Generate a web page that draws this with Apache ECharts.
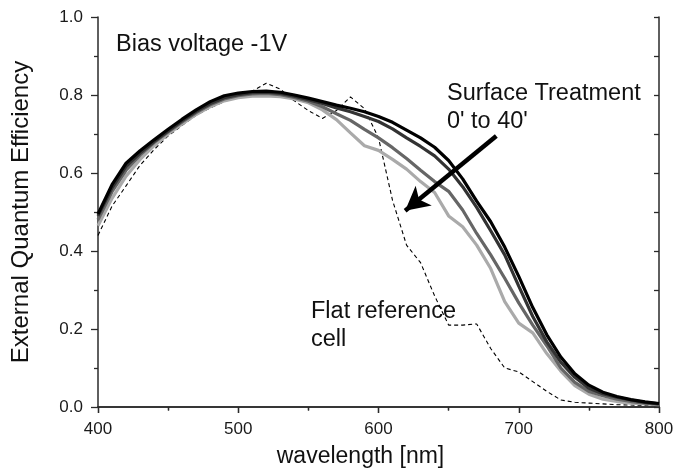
<!DOCTYPE html>
<html>
<head>
<meta charset="utf-8">
<script src="https://cdn.jsdelivr.net/npm/echarts@6/dist/echarts.min.js"></script>
<style>
html,body{margin:0;padding:0;background:#fff;}
#chart{width:683px;height:473px;}
</style>
</head>
<body>
<div id="chart"></div>
<script>
// wavelengths [nm]
var wavelengths = [400,410,420,430,440,450,460,470,480,490,500,510,520,530,540,550,560,570,580,590,600,610,620,630,640,650,660,670,680,690,700,710,720,730,740,750,760,770,780,790,800];
// surface treatment curves (EQE)
var eqe0 = [0.495,0.57,0.625,0.657,0.685,0.712,0.738,0.762,0.783,0.798,0.805,0.809,0.81,0.807,0.8,0.792,0.783,0.774,0.766,0.757,0.745,0.73,0.71,0.69,0.666,0.632,0.585,0.528,0.475,0.41,0.335,0.255,0.185,0.128,0.085,0.056,0.038,0.027,0.019,0.013,0.009];
var eqe1 = [0.49,0.562,0.617,0.651,0.681,0.708,0.734,0.758,0.778,0.793,0.801,0.806,0.807,0.804,0.797,0.788,0.778,0.767,0.757,0.745,0.732,0.713,0.69,0.668,0.644,0.61,0.565,0.512,0.452,0.39,0.31,0.232,0.167,0.115,0.076,0.048,0.034,0.025,0.018,0.012,0.008];
var eqe2 = [0.48,0.552,0.607,0.646,0.678,0.705,0.731,0.755,0.775,0.79,0.798,0.803,0.804,0.801,0.794,0.784,0.77,0.752,0.735,0.712,0.69,0.665,0.637,0.607,0.578,0.553,0.505,0.445,0.39,0.33,0.267,0.21,0.157,0.1,0.063,0.04,0.029,0.02,0.014,0.01,0.007];
var eqe3 = [0.465,0.535,0.592,0.635,0.67,0.70,0.726,0.75,0.77,0.785,0.793,0.797,0.798,0.796,0.79,0.78,0.762,0.737,0.703,0.67,0.658,0.635,0.61,0.578,0.55,0.49,0.462,0.415,0.355,0.27,0.215,0.19,0.137,0.092,0.055,0.033,0.02,0.014,0.01,0.008,0.006];
// flat reference cell
var eqeRef = [0.44,0.515,0.567,0.62,0.66,0.695,0.722,0.748,0.767,0.783,0.795,0.81,0.83,0.815,0.785,0.76,0.74,0.76,0.795,0.765,0.69,0.53,0.415,0.37,0.285,0.21,0.21,0.213,0.15,0.1,0.09,0.065,0.04,0.018,0.012,0.01,0.008,0.006,0.005,0.004,0.004];
// axis ticks
var xTicks = [400,500,600,700,800];
var yTicks = [0.0,0.2,0.4,0.6,0.8,1.0];

function pairs(vals){ return wavelengths.map(function(w,i){ return [w, vals[i]]; }); }

var chart = echarts.init(document.getElementById('chart'), null, {renderer:'canvas'});
var FONT = 'Liberation Sans, Arial, sans-serif';
var axisLine = {show:true, lineStyle:{color:'#2a2a2a', width:1.5}};

var curveStyles = [
  {name:"40'", data:eqe3, color:'#aaaaaa'},
  {name:"20'", data:eqe2, color:'#666666'},
  {name:"10'", data:eqe1, color:'#333333'},
  {name:"0'",  data:eqe0, color:'#000000'}
];

var series = curveStyles.map(function(c){
  return {type:'line', name:c.name, data:pairs(c.data), showSymbol:false, symbol:'none',
    lineStyle:{color:c.color, width:3.2}, itemStyle:{color:c.color}, silent:true, z:3};
});
series.unshift({type:'line', name:'Flat reference cell', data:pairs(eqeRef), showSymbol:false, symbol:'none',
  lineStyle:{color:'#000', width:1.1, type:[4,3]}, silent:true, z:2});
// arrow annotation
series.push({type:'line', data:[], silent:true,
  markLine:{silent:true, symbol:['none','arrow'], symbolSize:[19,24], animation:false,
    label:{show:false}, lineStyle:{color:'#000', width:4.5, type:'solid'},
    emphasis:{disabled:true},
    data:[[{coord:[684,0.695]},{coord:[619,0.503]}]]}});

var option = {
  animation:false,
  backgroundColor:'#fff',
  grid:{left:98, right:24, top:17, bottom:62, containLabel:false},
  xAxis:[{
    type:'value', min:400, max:800, interval:100, position:'bottom',
    axisLine:axisLine,
    axisTick:{show:true, inside:false, length:6, lineStyle:{color:'#2a2a2a', width:1.3}},
    minorTick:{show:true, splitNumber:2, length:3.5, lineStyle:{color:'#2a2a2a', width:1.3}},
    splitLine:{show:false},
    axisLabel:{fontSize:17, color:'#1a1a1a', fontFamily:FONT, margin:14,
      formatter:function(v){ return xTicks.indexOf(v)>=0 ? String(v) : ''; }},
    name:'wavelength [nm]', nameLocation:'middle', nameGap:38,
    nameTextStyle:{fontSize:23, color:'#111', fontFamily:FONT, padding:[0,36,0,0]}
  },{
    type:'value', min:400, max:800, interval:100, position:'top',
    axisLine:axisLine,
    axisTick:{show:true, inside:true, length:6, lineStyle:{color:'#2a2a2a', width:1.3}},
    minorTick:{show:true, splitNumber:2, length:3.5, lineStyle:{color:'#2a2a2a', width:1.3}},
    splitLine:{show:false}, axisLabel:{show:false}
  }],
  yAxis:[{
    type:'value', min:0, max:1, interval:0.2, position:'left',
    axisLine:axisLine,
    axisTick:{show:true, inside:false, length:7, lineStyle:{color:'#2a2a2a', width:1.3}},
    minorTick:{show:true, splitNumber:2, length:4, lineStyle:{color:'#2a2a2a', width:1.3}},
    splitLine:{show:false},
    axisLabel:{fontSize:17, color:'#1a1a1a', fontFamily:FONT, margin:15,
      formatter:function(v){ return v.toFixed(1); }},
    name:'External Quantum Efficiency', nameLocation:'middle', nameGap:65,
    nameTextStyle:{fontSize:24, color:'#111', fontFamily:FONT}
  },{
    type:'value', min:0, max:1, interval:0.1, position:'right',
    axisLine:axisLine,
    axisTick:{show:true, inside:true, length:5, lineStyle:{color:'#2a2a2a', width:1.3}},
    splitLine:{show:false}, axisLabel:{show:false}
  }],
  series:series,
  graphic:[
    {type:'text', left:116, top:33, silent:true,
      style:{text:'Bias voltage -1V', fontSize:23.5, fontFamily:FONT, fill:'#111'}},
    {type:'text', left:447, top:80, silent:true,
      style:{text:"Surface Treatment\n0' to 40'", fontSize:23.5, lineHeight:28, fontFamily:FONT, fill:'#111'}},
    {type:'text', left:311, top:298, silent:true,
      style:{text:'Flat reference\ncell', fontSize:23.5, lineHeight:28, fontFamily:FONT, fill:'#111'}}
  ]
};
chart.setOption(option);
</script>
</body>
</html>
